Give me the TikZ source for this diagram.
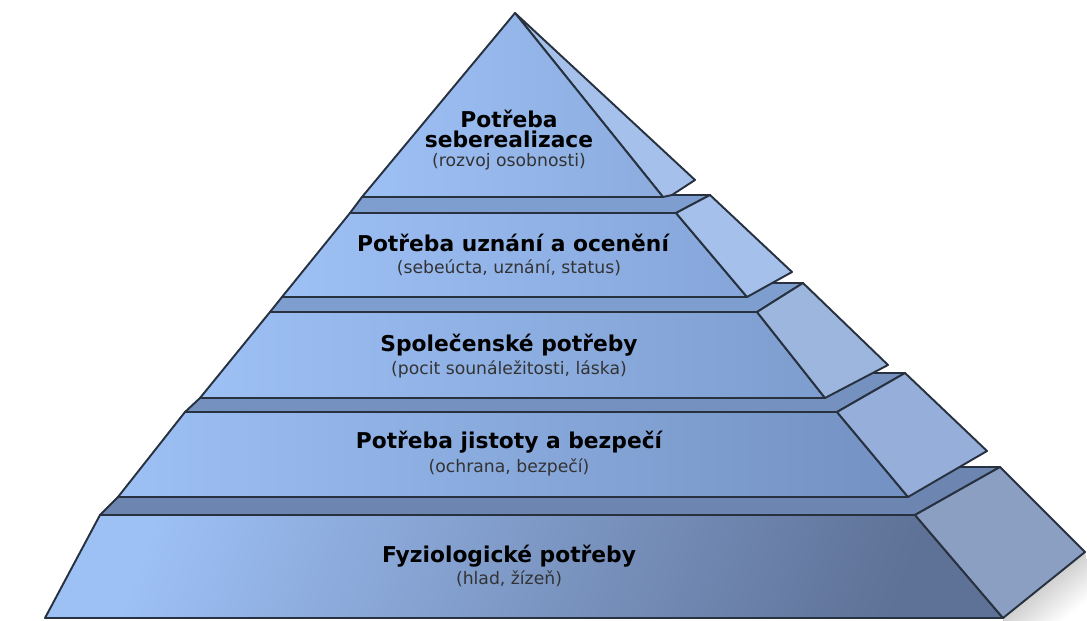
\documentclass[tikz,border=0pt]{standalone}
\usepackage{fontspec}
\setmainfont{DejaVu Sans}
\usepackage{xcolor}
\usetikzlibrary{positioning}

\definecolor{edgeline}{HTML}{27313F}
\definecolor{frontlight}{HTML}{9DC0F5}
\definecolor{stripblue}{HTML}{7F9ED0}
\definecolor{sideblue}{HTML}{A5C0EA}
\definecolor{physio_dark}{HTML}{5E7196}
\definecolor{physio_side}{HTML}{8A9FC2}
\definecolor{safety_dark}{HTML}{7391C2}
\definecolor{safety_side}{HTML}{95AEDA}
\definecolor{social_dark}{HTML}{7E9DCF}
\definecolor{esteem_dark}{HTML}{86A6DA}
\definecolor{selfreal_dark}{HTML}{8CACDE}

\tikzset{
  face/.style={draw=edgeline, line width=1.1pt, line join=round},
  front/.style={face, left color=frontlight, right color=#1},
  strip/.style={face, fill=#1},
  side/.style={face, fill=#1},
  title/.style={font=\fontsize{12.4}{11.4}\selectfont\bfseries, align=center, inner sep=0pt},
  sub/.style={font=\fontsize{9.8}{11}\selectfont, text=black!80, inner sep=0pt}
}

\begin{document}
\begin{tikzpicture}[x=0.02cm, y=-0.02cm]
\useasboundingbox (0,0) rectangle (1087,621);

\shade[left color=black!35, right color=white, shading angle=39] (1003,618) -- (1085,552) -- (1087,560) -- (1087,621) -- (1003,621) -- cycle;
\draw[strip=stripblue!85!black] (100,515) -- (915,515) -- (1000,467) -- (960,467) -- (118,497) -- cycle;
\draw[front=physio_dark, shading angle=70] (45,618) -- (100,515) -- (915,515) -- (1003,618) -- cycle;
\draw[side=physio_side] (915,515) -- (1000,467) -- (1085,552) -- (1003,618) -- cycle;

\draw[strip=stripblue!92!black] (185,412) -- (837,412) -- (905,373) -- (873,373) -- (200,398) -- cycle;
\draw[front=safety_dark] (118,497) -- (185,412) -- (837,412) -- (908,497) -- cycle;
\draw[side=safety_side] (837,412) -- (905,373) -- (987,451) -- (908,497) -- cycle;

\draw[strip=stripblue] (270,312) -- (757,312) -- (803,283) -- (772,283) -- (282,297) -- cycle;
\draw[front=social_dark] (200,398) -- (270,312) -- (757,312) -- (825,398) -- cycle;
\draw[side=sideblue!95!black] (757,312) -- (803,283) -- (888,365) -- (825,398) -- cycle;

\draw[strip=stripblue] (350,213) -- (676,213) -- (710,195) -- (667,195) -- (362,197) -- cycle;
\draw[front=esteem_dark] (282,297) -- (350,213) -- (676,213) -- (747,297) -- cycle;
\draw[side=sideblue] (676,213) -- (710,195) -- (792,272) -- (747,297) -- cycle;

\draw[side=sideblue] (515,13) -- (695,180) -- (672,195) -- (663,197) -- cycle;
\draw[front=selfreal_dark] (362,197) -- (515,13) -- (663,197) -- cycle;

\node[title] at (509,129) (selfreal) {Potřeba\\seberealizace};
\node[sub] at (509,162) (selfreal_sub) {(rozvoj osobnosti)};
\node[title] at (513,243) (esteem) {Potřeba uznání a ocenění};
\node[sub] at (509,268) (esteem_sub) {(sebeúcta, uznání, status)};
\node[title] at (509,345) (social) {Společenské potřeby};
\node[sub] at (509,369) (social_sub) {(pocit sounáležitosti, láska)};
\node[title] at (509,442) (safety) {Potřeba jistoty a bezpečí};
\node[sub] at (509,467) (safety_sub) {(ochrana, bezpečí)};
\node[title] at (509,556) (physio) {Fyziologické potřeby};
\node[sub] at (509,579) (physio_sub) {(hlad, žízeň)};
\end{tikzpicture}
\end{document}
